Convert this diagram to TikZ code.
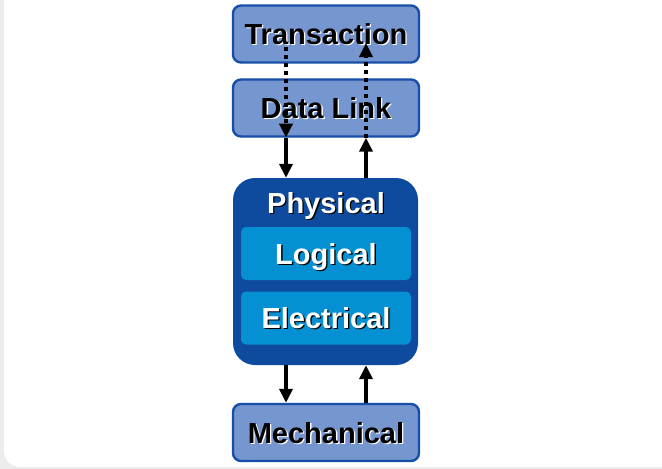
\documentclass[tikz,border=0pt]{standalone}
\usepackage{fontspec}
\setmainfont{Liberation Sans}
\usepackage{tikz}
\usetikzlibrary{arrows.meta}

\definecolor{hatch}{RGB}{118,150,208}
\definecolor{rim}{RGB}{22,78,168}
\definecolor{physblue}{RGB}{14,74,158}
\definecolor{subblue}{RGB}{4,144,210}
\definecolor{cardgray}{RGB}{236,236,236}

\newcommand{\shtxt}[3]{\rlap{\hspace{1.3pt}\raisebox{-1.3pt}{\color{#2}#3}}{\color{#1}#3}}

\tikzset{
  label/.style={font=\fontsize{29}{30}\selectfont\bfseries,
    text height=27pt, text depth=6pt},
  layer/.style={label, draw=rim, line width=2.4pt, fill=hatch, rounded corners=8pt,
    minimum width=186pt, minimum height=57pt, inner sep=0pt},
  sublayer/.style={label, fill=subblue, rounded corners=5pt,
    minimum width=170pt, minimum height=53pt, inner sep=0pt},
  tip/.style={-{Triangle[length=14pt,width=13pt]}},
  flow/.style={line width=3.6pt, tip},
  hint/.style={line width=4pt, dash pattern=on 4pt off 4pt, tip}
}

\begin{document}
\begin{tikzpicture}
  \useasboundingbox (0,0) rectangle (662pt,-469pt);
  \fill[cardgray] (0,0) rectangle (662pt,-469pt);
  \fill[white, rounded corners=16pt] (4pt,30pt) rectangle (680pt,-467pt);

  \begin{scope}[x=1pt, y=-1pt]
  \node[layer] (ta) at (326,34) {\shtxt{black}{white}{Transaction}};
  \node[layer] (dl) at (326,108) {\shtxt{black}{white}{Data Link}};
  \node[fill=physblue, rounded corners=22pt, minimum width=185pt,
    minimum height=187pt] (phys) at (325.5,271.5) {};
  \node[label, inner sep=0pt] (physlbl) at (326,203)
    {\shtxt{white}{black}{Physical}};
  \node[sublayer] (lo) at (326,253.5) {\shtxt{white}{black}{Logical}};
  \node[sublayer] (el) at (326,318) {\shtxt{white}{black}{Electrical}};
  \node[layer] (me) at (326,432.5) {\shtxt{black}{white}{Mechanical}};

  \coordinate (lx) at (286,0);
  \coordinate (rx) at (366,0);
  \coordinate (down) at (286,47);
  \coordinate (up) at (366,43);
  \end{scope}

  \draw[hint] (down) -- (dl.south -| lx);
  \draw[hint] (dl.south -| rx) -- (up);
  \draw[flow] (dl.south -| lx) -- (phys.north -| lx);
  \draw[flow] (phys.north -| rx) -- (dl.south -| rx);
  \draw[flow] (phys.south -| lx) -- (me.north -| lx);
  \draw[flow] (me.north -| rx) -- (phys.south -| rx);
\end{tikzpicture}
\end{document}
